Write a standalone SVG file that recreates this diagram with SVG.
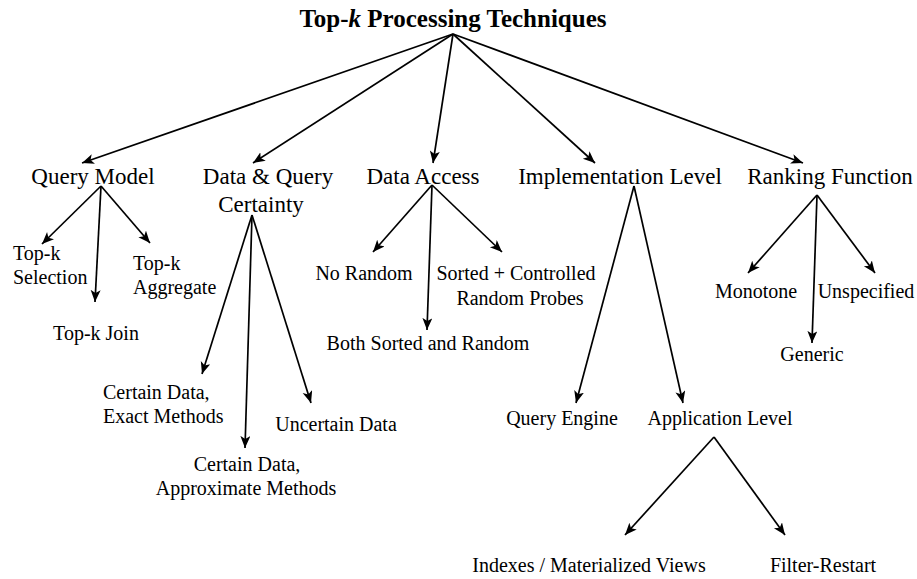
<svg xmlns="http://www.w3.org/2000/svg" width="917" height="579" viewBox="0 0 917 579">
<defs>
<marker id="ah" markerUnits="userSpaceOnUse" markerWidth="14" markerHeight="12" refX="12" refY="5" orient="auto">
<path d="M0,0 L12,5 L0,10 L3,5 z" fill="#000"/>
</marker>
<style>
text{font-family:"Liberation Serif","Times New Roman",serif;fill:#000}
.t{font-size:25px;font-weight:bold;text-anchor:middle}
.l1{font-size:23px;text-anchor:middle}
.l2{font-size:20px;text-anchor:middle}
.la{font-size:20px;text-anchor:start}
.c line{stroke:#000;stroke-width:1.7;marker-end:url(#ah)}
</style>
</defs>
<rect width="917" height="579" fill="#fff"/>
<g class="c" id="connectors">
<line x1="453" y1="34" x2="82" y2="163"/>
<line x1="453" y1="34" x2="253" y2="163"/>
<line x1="453" y1="34" x2="433" y2="163"/>
<line x1="453" y1="34" x2="595" y2="163"/>
<line x1="453" y1="34" x2="803" y2="163"/>
<line x1="101" y1="186" x2="42" y2="244"/>
<line x1="101" y1="186" x2="95" y2="302"/>
<line x1="101" y1="186" x2="150" y2="243"/>
<line x1="252" y1="215" x2="202" y2="374"/>
<line x1="252" y1="215" x2="245" y2="448"/>
<line x1="252" y1="215" x2="311" y2="403"/>
<line x1="432" y1="185" x2="373" y2="252"/>
<line x1="432" y1="185" x2="427" y2="330"/>
<line x1="432" y1="185" x2="502" y2="252"/>
<line x1="634" y1="186" x2="576" y2="403"/>
<line x1="634" y1="186" x2="683" y2="403"/>
<line x1="714" y1="437" x2="625" y2="535"/>
<line x1="714" y1="437" x2="785" y2="535"/>
<line x1="817" y1="195" x2="748" y2="273"/>
<line x1="817" y1="195" x2="812" y2="343"/>
<line x1="817" y1="195" x2="875" y2="273"/>
</g>
<g id="root"><text class="t" x="453" y="27">Top-<tspan font-style="italic">k</tspan> Processing Techniques</text></g>
<g id="query-model"><text class="l1" x="93" y="184">Query Model</text></g>
<g id="data-query-certainty"><text class="l1" x="268" y="184">Data &amp; Query</text><text class="l1" x="261" y="212">Certainty</text></g>
<g id="data-access"><text class="l1" x="423" y="184">Data Access</text></g>
<g id="implementation-level"><text class="l1" x="620" y="184">Implementation Level</text></g>
<g id="ranking-function"><text class="l1" x="830" y="184">Ranking Function</text></g>
<g id="topk-selection"><text class="la" x="13" y="260">Top-k</text><text class="la" x="13" y="284">Selection</text></g>
<g id="topk-join"><text class="l2" x="96" y="340">Top-k Join</text></g>
<g id="topk-aggregate"><text class="la" x="133" y="270">Top-k</text><text class="la" x="133" y="294">Aggregate</text></g>
<g id="certain-exact"><text class="la" x="103" y="399">Certain Data,</text><text class="la" x="103" y="423">Exact Methods</text></g>
<g id="certain-approx"><text class="l2" x="247" y="471">Certain Data,</text><text class="l2" x="246" y="495">Approximate Methods</text></g>
<g id="uncertain-data"><text class="l2" x="336" y="431">Uncertain Data</text></g>
<g id="no-random"><text class="l2" x="364" y="280">No Random</text></g>
<g id="both-sorted-random"><text class="l2" x="428" y="350">Both Sorted and Random</text></g>
<g id="sorted-controlled"><text class="l2" x="516" y="280">Sorted + Controlled</text><text class="l2" x="520" y="305">Random Probes</text></g>
<g id="query-engine"><text class="l2" x="562" y="425">Query Engine</text></g>
<g id="application-level"><text class="l2" x="720" y="425">Application Level</text></g>
<g id="indexes-views"><text class="l2" x="589" y="572">Indexes / Materialized Views</text></g>
<g id="filter-restart"><text class="l2" x="823" y="572">Filter-Restart</text></g>
<g id="monotone"><text class="l2" x="756" y="298">Monotone</text></g>
<g id="unspecified"><text class="l2" x="866" y="298">Unspecified</text></g>
<g id="generic"><text class="l2" x="812" y="361">Generic</text></g>
</svg>
